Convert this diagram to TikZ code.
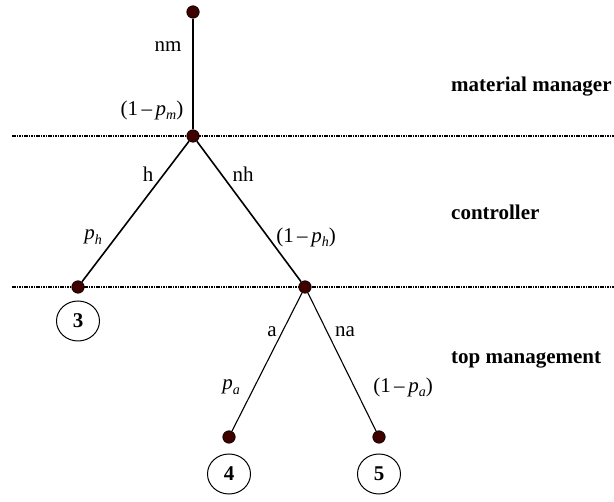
\documentclass[tikz,border=0pt]{standalone}
\usepackage{fontspec}
\setmainfont{Liberation Serif}
\usetikzlibrary{shapes.geometric}
\definecolor{dotred}{HTML}{3F0000}
\newcommand{\prb}[1]{\textit{p}\raisebox{-0.45ex}{\fontsize{14}{15}\selectfont\textit{#1}}}
\tikzset{
  dotnode/.style={circle,fill=dotred,draw=black,line width=0.6pt,minimum size=12.5pt,inner sep=0pt},
  outc/.style={ellipse,draw=black,line width=1pt,minimum width=43pt,minimum height=40pt,inner sep=0pt,font=\fontsize{21}{25}\selectfont\bfseries},
  lvl/.style={dash pattern=on 1.6pt off 0.8pt,line width=2.4pt},
  branch/.style={line width=1.6pt},
  thinbranch/.style={line width=1.1pt},
  lbl/.style={font=\fontsize{21}{25}\selectfont,inner sep=0pt},
  role/.style={font=\fontsize{21}{25}\selectfont\bfseries,inner sep=0pt,anchor=west}
}
\begin{document}
\begin{tikzpicture}[x=1pt,y=-1pt]
\useasboundingbox (0,0) rectangle (614,502);
% level lines
\coordinate (l1a) at (12,136);
\coordinate (l1b) at (614,136);
\coordinate (l2a) at (12,287);
\coordinate (l2b) at (614,287);
\draw[lvl] (l1a) -- (l1b);
\draw[lvl] (l2a) -- (l2b);
% nodes
\node[dotnode] (top) at (193,12) {};
\node[dotnode] (mm) at (193,136) {};
\node[dotnode] (n3) at (78,287) {};
\node[dotnode] (nr) at (305,287) {};
\node[dotnode] (n4) at (229,437) {};
\node[dotnode] (n5) at (379,437) {};
% connectors
\draw[line width=2.2pt] (top) -- (mm);
\draw[branch] (mm) -- (n3);
\draw[branch] (mm) -- (nr);
\draw[thinbranch] (nr) -- (n4);
\draw[thinbranch] (nr) -- (n5);
% outcomes
\node[outc] (o3) at (78,321) {3};
\node[outc] (o4) at (229,474) {4};
\node[outc] (o5) at (379,474) {5};
% labels
\node[lbl] (tnm) at (168,47) {nm};
\node[lbl] (tpm) at (152,110) {(1\,–\,\prb{m})};
\node[lbl] (th) at (148,174) {h};
\node[lbl] (tnh) at (243,174) {nh};
\node[lbl] (tph) at (93,237) {\prb{h}};
\node[lbl] (tqh) at (306,237) {(1\,–\,\prb{h})};
\node[lbl] (ta) at (272,332) {a};
\node[lbl] (tna) at (345,332) {na};
\node[lbl] (tpa) at (231,387) {\prb{a}};
\node[lbl] (tqa) at (403,387) {(1\,–\,\prb{a})};
% roles
\node[role] (r1) at (451,87) {material manager};
\node[role] (r2) at (451,212) {controller};
\node[role] (r3) at (451,360) {top management};
\end{tikzpicture}
\end{document}
